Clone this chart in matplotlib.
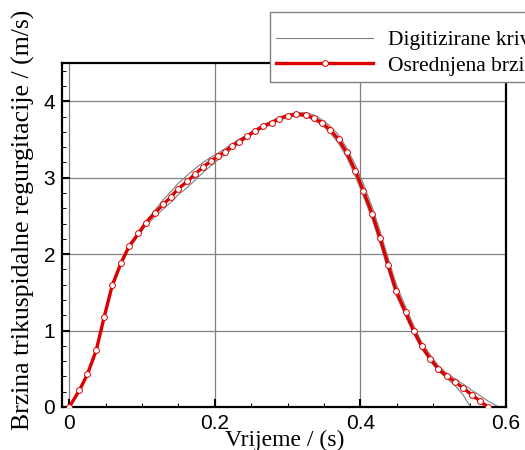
import numpy as np
import matplotlib
matplotlib.use("Agg")
import matplotlib.pyplot as plt
from matplotlib.patches import Rectangle

# averaged curve (red, with markers)
t_avg = [0.000, 0.014, 0.025, 0.037, 0.048, 0.059, 0.071, 0.082, 0.095, 0.105,
         0.118, 0.129, 0.140, 0.149, 0.162, 0.173, 0.184, 0.195, 0.204, 0.214,
         0.223, 0.233, 0.244, 0.255, 0.266, 0.278, 0.288, 0.300, 0.312, 0.325,
         0.336, 0.347, 0.358, 0.370, 0.381, 0.393, 0.404, 0.416, 0.427, 0.438,
         0.449, 0.462, 0.473, 0.484, 0.496, 0.507, 0.519, 0.530, 0.541, 0.553,
         0.564, 0.575]
v_avg = [0.00, 0.22, 0.43, 0.74, 1.18, 1.59, 1.88, 2.10, 2.27, 2.41,
         2.54, 2.65, 2.75, 2.85, 2.95, 3.05, 3.14, 3.22, 3.28, 3.34,
         3.41, 3.47, 3.54, 3.61, 3.67, 3.72, 3.77, 3.81, 3.83, 3.82,
         3.78, 3.72, 3.63, 3.50, 3.33, 3.09, 2.83, 2.53, 2.21, 1.86,
         1.52, 1.24, 1.00, 0.80, 0.63, 0.50, 0.40, 0.33, 0.25, 0.16,
         0.08, 0.00]

t_dig1 = [0.000, 0.014, 0.025, 0.037, 0.048, 0.059, 0.071, 0.082, 0.095, 0.105,
          0.118, 0.129, 0.140, 0.149, 0.162, 0.173, 0.184, 0.195, 0.204, 0.214,
          0.223, 0.233, 0.244, 0.255, 0.266, 0.278, 0.288, 0.300, 0.312, 0.325,
          0.336, 0.347, 0.358, 0.370, 0.381, 0.393, 0.404, 0.416, 0.427, 0.438,
          0.449, 0.462, 0.473, 0.484, 0.496, 0.507, 0.519, 0.530, 0.541, 0.553,
          0.564, 0.575, 0.590]
v_dig1 = [0.00, 0.24, 0.45, 0.76, 1.20, 1.62, 1.91, 2.12, 2.28, 2.42,
          2.58, 2.71, 2.82, 2.92, 3.03, 3.12, 3.20, 3.27, 3.32, 3.38,
          3.44, 3.50, 3.56, 3.63, 3.69, 3.74, 3.79, 3.83, 3.85, 3.85,
          3.82, 3.76, 3.68, 3.56, 3.39, 3.17, 2.92, 2.62, 2.30, 1.95,
          1.61, 1.31, 1.07, 0.85, 0.68, 0.54, 0.44, 0.37, 0.30, 0.22,
          0.15, 0.08, 0.00]

t_dig2 = [0.000, 0.014, 0.025, 0.037, 0.048, 0.059, 0.071, 0.082, 0.095, 0.105,
          0.118, 0.129, 0.140, 0.149, 0.162, 0.173, 0.184, 0.195, 0.204, 0.214,
          0.223, 0.233, 0.244, 0.255, 0.266, 0.278, 0.288, 0.300, 0.312, 0.325,
          0.336, 0.347, 0.358, 0.370, 0.381, 0.393, 0.404, 0.416, 0.427, 0.438,
          0.449, 0.462, 0.473, 0.484, 0.496, 0.507, 0.519, 0.530, 0.541, 0.548,
          0.552]
v_dig2 = [0.00, 0.20, 0.41, 0.72, 1.16, 1.56, 1.85, 2.08, 2.24, 2.37,
          2.49, 2.59, 2.68, 2.77, 2.87, 2.97, 3.07, 3.16, 3.23, 3.30,
          3.37, 3.44, 3.52, 3.59, 3.65, 3.70, 3.75, 3.79, 3.81, 3.80,
          3.75, 3.69, 3.59, 3.45, 3.27, 3.02, 2.76, 2.46, 2.14, 1.79,
          1.46, 1.19, 0.96, 0.76, 0.60, 0.47, 0.37, 0.28, 0.16, 0.05,
          0.00]

x_ticks = [0, 0.2, 0.4, 0.6]
x_ticklabels = ["0", "0.2", "0.4", "0.6"]
y_ticks = [0, 1, 2, 3, 4]

W, H = 525, 450
fig = plt.figure(figsize=(W / 100, H / 100), dpi=100)
ax = fig.add_axes([62 / W, 1 - 407 / H, (506 - 62) / W, (407 - 63) / H])

grey = "#7f7f7f"
red = "#dd0000"

ax.plot(t_dig1, v_dig1, color=grey, lw=0.8, zorder=2, label="Digitizirane krivulje")
ax.plot(t_dig2, v_dig2, color=grey, lw=0.8, zorder=2)
ax.plot(t_avg, v_avg, color=red, lw=2.4, marker="o", ms=4.2, mfc="white",
        mec=red, mew=0.7, zorder=3, label="Osrednjena brzina")

ax.set_xlim(-0.01, 0.6)
ax.set_ylim(0, 4.5)
ax.set_xticks(x_ticks)
ax.set_xticklabels(x_ticklabels)
ax.set_yticks(y_ticks)
ax.set_xticks(np.arange(0, 0.6, 0.05), minor=True)
ax.set_yticks(np.arange(0, 4.5, 0.2), minor=True)
ax.grid(True, which="major", color=grey, lw=0.9)
ax.set_axisbelow(True)

ax.tick_params(which="both", direction="in", top=False, right=False, color="black")
ax.tick_params(which="major", length=6, width=1.5, pad=5)
ax.tick_params(which="minor", length=3, width=0.7)
for lab in ax.get_xticklabels() + ax.get_yticklabels():
    lab.set_fontfamily("Liberation Sans")
    lab.set_fontsize(15)
for sp in ax.spines.values():
    sp.set_linewidth(1.6)

fig.text(285 / W, 1 - 446 / H, "Vrijeme / (s)", family="Liberation Serif", fontsize=17,
         ha="center", va="baseline")
fig.text(23 / W, 1 - 430 / H, "Brzina trikuspidalne regurgitacije / (m/s)",
         family="Liberation Serif", fontsize=18.5, rotation=90, ha="center", va="bottom")

# legend box sticks out past the right edge
box = Rectangle((270 / W, 1 - 82 / H), 300 / W, 70 / H, transform=fig.transFigure,
                facecolor="white", edgecolor=grey, lw=1.0, zorder=5)
fig.patches.append(box)
handles, labels = ax.get_legend_handles_labels()
leg = fig.legend(handles, labels, loc="upper left",
                 bbox_to_anchor=(272 / W, 1 - 26 / H), frameon=False,
                 prop={"family": "Liberation Serif", "size": 15.5},
                 handlelength=4.5, handletextpad=0.7, labelspacing=0.25,
                 borderpad=0.2, borderaxespad=0)
leg.set_zorder(6)

fig.savefig("out.png", dpi=100)
